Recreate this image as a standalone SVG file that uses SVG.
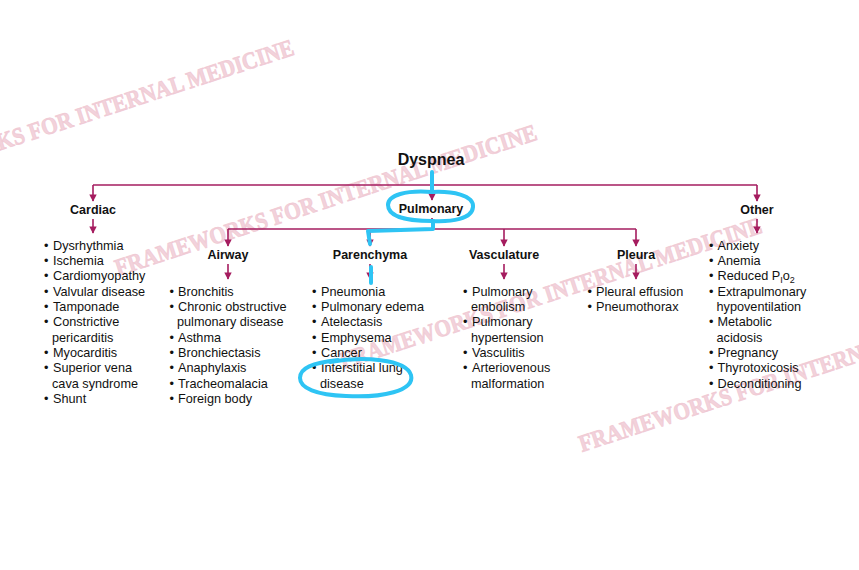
<svg xmlns="http://www.w3.org/2000/svg" width="859" height="570" viewBox="0 0 859 570">
<style>
.wm{font-family:"Liberation Serif","Times New Roman",serif;font-weight:bold;font-size:24px;fill:#efc6d1;stroke:#efc6d1;stroke-width:0.9;fill-opacity:0.8;stroke-opacity:0.8}
.lbl{font-family:"Liberation Sans",Arial,Helvetica,sans-serif;font-weight:bold;font-size:12.5px;fill:#111;text-anchor:middle}
.ttl{font-family:"Liberation Sans",Arial,Helvetica,sans-serif;font-weight:bold;font-size:16px;fill:#111;text-anchor:middle}
.it{font-family:"Liberation Sans",Arial,Helvetica,sans-serif;font-size:12.7px;fill:#111}
.ln{stroke:#a51c5f;stroke-width:1.6;fill:none}
.ar{stroke:#a51c5f;stroke-width:1.6;fill:none;marker-end:url(#ah)}
.pen{stroke:#2ec4f4;stroke-width:4;fill:none;stroke-linecap:round;stroke-linejoin:round}
</style>
<defs>
<marker id="ah" viewBox="0 0 10 10" refX="9" refY="5" markerWidth="4.6" markerHeight="4.6" orient="auto" markerUnits="strokeWidth">
<path d="M0,0 L10,5 L0,10 Z" fill="#a51c5f"/>
</marker>
</defs>
<rect width="859" height="570" fill="#fff"/>
<g id="watermarks">
<text class="wm" transform="translate(-125,191) rotate(-18)" textLength="442" lengthAdjust="spacingAndGlyphs">FRAMEWORKS FOR INTERNAL MEDICINE</text>
<text class="wm" transform="translate(118,276) rotate(-18)" textLength="442" lengthAdjust="spacingAndGlyphs">FRAMEWORKS FOR INTERNAL MEDICINE</text>
<text class="wm" transform="translate(343,369) rotate(-18)" textLength="442" lengthAdjust="spacingAndGlyphs">FRAMEWORKS FOR INTERNAL MEDICINE</text>
<text class="wm" transform="translate(582,452) rotate(-18)" textLength="442" lengthAdjust="spacingAndGlyphs">FRAMEWORKS FOR INTERNAL MEDICINE</text>
</g>
<g id="connectors">
<path class="ln" d="M432,171 V185"/>
<path class="ln" d="M93,185 H757"/>
<path class="ar" d="M93,185 V201"/>
<path class="ar" d="M757,185 V201"/>
<path class="ar" d="M432,185 V200"/>
<path class="ar" d="M93,219 V233"/>
<path class="ar" d="M757,219 V233"/>
<path class="ln" d="M432,218 V229"/>
<path class="ln" d="M228,229 H636"/>
<path class="ar" d="M228,229 V246"/>
<path class="ar" d="M370,229 V246"/>
<path class="ar" d="M504,229 V246"/>
<path class="ar" d="M636,229 V246"/>
<path class="ar" d="M228,264 V279"/>
<path class="ar" d="M370,264 V279"/>
<path class="ar" d="M504,264 V279"/>
<path class="ar" d="M636,264 V279"/>
</g>
<g id="dyspnea"><text class="ttl" x="431" y="165">Dyspnea</text></g>
<g id="cardiac">
<text class="lbl" x="93" y="214">Cardiac</text>
<text class="it"><tspan x="44" y="249.5">•</tspan><tspan x="53">Dysrhythmia</tspan></text>
<text class="it"><tspan x="44" y="264.8">•</tspan><tspan x="53">Ischemia</tspan></text>
<text class="it"><tspan x="44" y="280.2">•</tspan><tspan x="53">Cardiomyopathy</tspan></text>
<text class="it"><tspan x="44" y="295.5">•</tspan><tspan x="53">Valvular disease</tspan></text>
<text class="it"><tspan x="44" y="310.8">•</tspan><tspan x="53">Tamponade</tspan></text>
<text class="it"><tspan x="44" y="326.2">•</tspan><tspan x="53">Constrictive</tspan></text>
<text class="it" x="52" y="341.5">pericarditis</text>
<text class="it"><tspan x="44" y="356.8">•</tspan><tspan x="53">Myocarditis</tspan></text>
<text class="it"><tspan x="44" y="372.1">•</tspan><tspan x="53">Superior vena</tspan></text>
<text class="it" x="52" y="387.5">cava syndrome</text>
<text class="it"><tspan x="44" y="402.8">•</tspan><tspan x="53">Shunt</tspan></text>
</g>
<g id="pulmonary"><text class="lbl" x="431" y="213">Pulmonary</text></g>
<g id="airway">
<text class="lbl" x="228" y="259">Airway</text>
<text class="it"><tspan x="169.5" y="295.5">•</tspan><tspan x="178">Bronchitis</tspan></text>
<text class="it"><tspan x="169.5" y="310.8">•</tspan><tspan x="178">Chronic obstructive</tspan></text>
<text class="it" x="177" y="326.2">pulmonary disease</text>
<text class="it"><tspan x="169.5" y="341.5">•</tspan><tspan x="178">Asthma</tspan></text>
<text class="it"><tspan x="169.5" y="356.8">•</tspan><tspan x="178">Bronchiectasis</tspan></text>
<text class="it"><tspan x="169.5" y="372.1">•</tspan><tspan x="178">Anaphylaxis</tspan></text>
<text class="it"><tspan x="169.5" y="387.5">•</tspan><tspan x="178">Tracheomalacia</tspan></text>
<text class="it"><tspan x="169.5" y="402.8">•</tspan><tspan x="178">Foreign body</tspan></text>
</g>
<g id="parenchyma">
<text class="lbl" x="370" y="259">Parenchyma</text>
<text class="it"><tspan x="312" y="295.5">•</tspan><tspan x="321">Pneumonia</tspan></text>
<text class="it"><tspan x="312" y="310.8">•</tspan><tspan x="321">Pulmonary edema</tspan></text>
<text class="it"><tspan x="312" y="326.2">•</tspan><tspan x="321">Atelectasis</tspan></text>
<text class="it"><tspan x="312" y="341.5">•</tspan><tspan x="321">Emphysema</tspan></text>
<text class="it"><tspan x="312" y="356.8">•</tspan><tspan x="321">Cancer</tspan></text>
<text class="it"><tspan x="312" y="372.1">•</tspan><tspan x="321">Interstitial lung</tspan></text>
<text class="it" x="320" y="387.5">disease</text>
</g>
<g id="vasculature">
<text class="lbl" x="504" y="259">Vasculature</text>
<text class="it"><tspan x="463" y="295.5">•</tspan><tspan x="472">Pulmonary</tspan></text>
<text class="it" x="471" y="310.8">embolism</text>
<text class="it"><tspan x="463" y="326.2">•</tspan><tspan x="472">Pulmonary</tspan></text>
<text class="it" x="471" y="341.5">hypertension</text>
<text class="it"><tspan x="463" y="356.8">•</tspan><tspan x="472">Vasculitis</tspan></text>
<text class="it"><tspan x="463" y="372.1">•</tspan><tspan x="472">Arteriovenous</tspan></text>
<text class="it" x="471" y="387.5">malformation</text>
</g>
<g id="pleura">
<text class="lbl" x="636" y="259">Pleura</text>
<text class="it"><tspan x="587.5" y="295.5">•</tspan><tspan x="596">Pleural effusion</tspan></text>
<text class="it"><tspan x="587.5" y="310.8">•</tspan><tspan x="596">Pneumothorax</tspan></text>
</g>
<g id="other">
<text class="lbl" x="757" y="214">Other</text>
<text class="it"><tspan x="709" y="249.5">•</tspan><tspan x="717.5">Anxiety</tspan></text>
<text class="it"><tspan x="709" y="264.8">•</tspan><tspan x="717.5">Anemia</tspan></text>
<text class="it"><tspan x="709" y="280.2">•</tspan><tspan x="717.5">Reduced P</tspan><tspan font-size="9" dy="3">I</tspan><tspan dy="-3">o</tspan><tspan font-size="9" dy="3">2</tspan></text>
<text class="it"><tspan x="709" y="295.5">•</tspan><tspan x="717.5">Extrapulmonary</tspan></text>
<text class="it" x="716.5" y="310.8">hypoventilation</text>
<text class="it"><tspan x="709" y="326.2">•</tspan><tspan x="717.5">Metabolic</tspan></text>
<text class="it" x="716.5" y="341.5">acidosis</text>
<text class="it"><tspan x="709" y="356.8">•</tspan><tspan x="717.5">Pregnancy</tspan></text>
<text class="it"><tspan x="709" y="372.1">•</tspan><tspan x="717.5">Thyrotoxicosis</tspan></text>
<text class="it"><tspan x="709" y="387.5">•</tspan><tspan x="717.5">Deconditioning</tspan></text>
</g>
<g id="annotations">
<path class="pen" d="M432,172 L432,192 C452,191 474,195 473,207 C472,219 452,222 432,221 C408,221 388,217 388,205 C388,195 406,190 432,192"/>
<path class="pen" d="M433,221 L433,229 L368,231 L370,244"/>
<path class="pen" d="M371,267 L371,283"/>
<path class="pen" d="M330,362 C362,356 406,359 411,375 C415,391 382,398 346,396 C316,395 300,388 300,378 C300,368 312,363 338,360"/>
</g>
</svg>
